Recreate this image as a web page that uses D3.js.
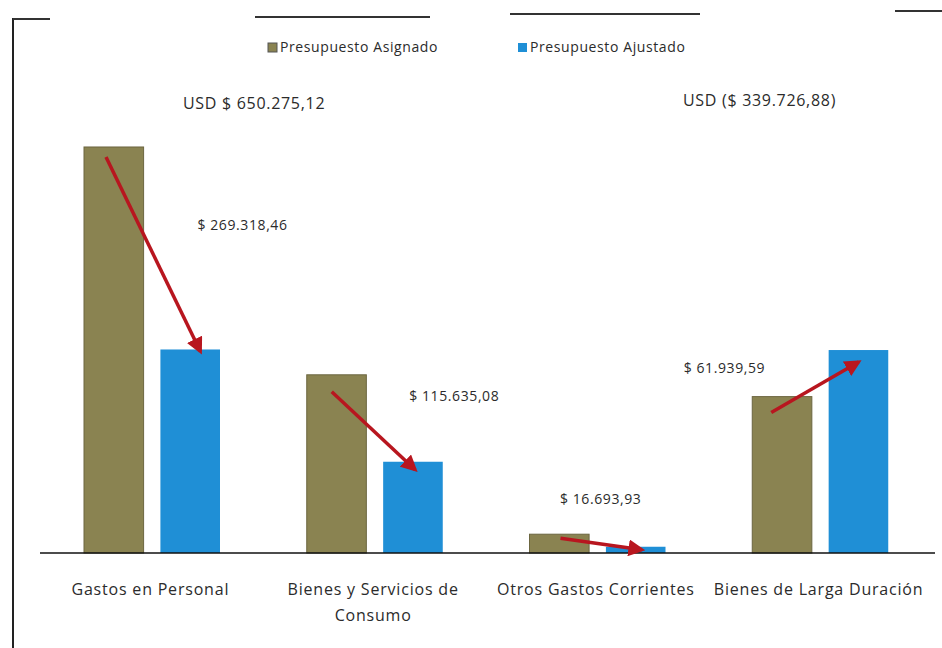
<!DOCTYPE html>
<html>
<head>
<meta charset="utf-8">
<script src="https://cdn.jsdelivr.net/npm/d3@7"></script>
<style>
  body { margin: 0; background: #fff; }
  text { font-family: "Open Sans", "Liberation Sans", sans-serif; fill: #2b2b2b; }
</style>
</head>
<body>
<div id="chart"></div>
<script>
// categorías y series
const categorias = ["Gastos en Personal", "Bienes y Servicios de Consumo", "Otros Gastos Corrientes", "Bienes de Larga Duración"];
const series = ["Presupuesto Asignado", "Presupuesto Ajustado"];

// valores (USD)
const asignado = [540000, 237000, 25000, 208000];
const ajustado = [270682, 121365, 8306, 269940];

// etiquetas de diferencia
const diferencias = ["$ 269.318,46", "$ 115.635,08", "$ 16.693,93", "$ 61.939,59"];
const totales = ["USD $ 650.275,12", "USD ($ 339.726,88)"];

const colores = ["#8a8351", "#1f8fd6"];

const W = 942, H = 648;
const margin = {left: 40, right: 11};

const svg = d3.select("#chart").append("svg")
    .attr("width", W)
    .attr("height", H);

// marco escaneado
svg.append("line").attr("x1", 13).attr("x2", 13).attr("y1", 18).attr("y2", H)
    .attr("stroke", "#222").attr("stroke-width", 2);
[[13, 50, 19], [255, 430, 17], [510, 700, 14], [895, 942, 11]].forEach(s => {
  svg.append("line").attr("x1", s[0]).attr("x2", s[1]).attr("y1", s[2]).attr("y2", s[2])
      .attr("stroke", "#333").attr("stroke-width", 2);
});

// escalas
const x0 = d3.scaleBand()
    .domain(categorias)
    .range([margin.left, W - margin.right]);

const x1 = d3.scaleBand()
    .domain(series)
    .range([44, 180])
    .paddingInner(0.22);

const y = d3.scaleLinear()
    .domain([0, 600000])
    .range([553, 553 - 600000 / 1330]);

const datos = categorias.map((c, i) => ({cat: c, vals: [asignado[i], ajustado[i]]}));

// barras
const g = svg.append("g");
g.selectAll("g.grupo")
  .data(datos)
  .join("g")
    .attr("class", "grupo")
    .attr("transform", d => "translate(" + x0(d.cat) + ",0)")
  .selectAll("rect")
  .data(d => d.vals.map((v, j) => ({serie: series[j], v: v, j: j})))
  .join("rect")
    .attr("x", d => x1(d.serie))
    .attr("y", d => y(d.v))
    .attr("width", x1.bandwidth())
    .attr("height", d => y(0) - y(d.v))
    .attr("fill", d => colores[d.j])
    .attr("stroke", d => d.j === 0 ? "#6c6640" : "none")
    .attr("stroke-width", 1);

// eje x (línea base)
svg.append("line")
    .attr("x1", margin.left).attr("x2", W - 7)
    .attr("y1", y(0)).attr("y2", y(0))
    .attr("stroke", "#111").attr("stroke-width", 1.6);

// etiquetas de categorías
const etiquetas = [["Gastos en Personal"], ["Bienes y Servicios de", "Consumo"], ["Otros Gastos Corrientes"], ["Bienes de Larga Duración"]];
categorias.forEach((c, i) => {
  const cx = x0(c) + x0.bandwidth() / 2 - 1;
  const t = svg.append("text")
      .attr("x", cx)
      .attr("y", 595)
      .attr("text-anchor", "middle")
      .attr("font-size", 16)
      .attr("letter-spacing", 0.8);
  etiquetas[i].forEach((l, k) => {
    t.append("tspan").attr("x", cx).attr("dy", k ? 26 : 0).text(l);
  });
});

// flechas
svg.append("defs").append("marker")
    .attr("id", "punta")
    .attr("viewBox", "0 0 10 10")
    .attr("refX", 8).attr("refY", 5)
    .attr("markerWidth", 4.8).attr("markerHeight", 4.8)
    .attr("orient", "auto")
  .append("path")
    .attr("d", "M0,0 L10,5 L0,10 Z")
    .attr("fill", "#b8161f");

// desplazamientos de inicio / fin de cada flecha respecto a las barras
const desde = [[22, 10], [25, 17], [31, 4], [19, 16]];
const hasta = [[40, 2], [32, 8], [36, 3], [30, 12]];

datos.forEach((d, i) => {
  const xa = x0(d.cat) + x1(series[0]);
  const xb = x0(d.cat) + x1(series[1]);
  svg.append("line")
      .attr("x1", xa + desde[i][0]).attr("y1", y(d.vals[0]) + desde[i][1])
      .attr("x2", xb + hasta[i][0]).attr("y2", y(d.vals[1]) + hasta[i][1])
      .attr("stroke", "#b8161f")
      .attr("stroke-width", 3.5)
      .attr("marker-end", "url(#punta)");
});

// etiquetas de diferencia (relativas a la barra ajustada)
const posEtiq = [[37, 226], [26, 397], [-46, 500], [-145, 369]];
datos.forEach((d, i) => {
  const ref = x0(d.cat) + x1(series[1]);
  svg.append("text")
      .attr("x", ref + posEtiq[i][0])
      .attr("y", posEtiq[i][1])
      .attr("dominant-baseline", "middle")
      .attr("font-size", 14)
      .attr("letter-spacing", 0.6)
      .text(diferencias[i]);
});

// totales
svg.append("text").attr("x", 183).attr("y", 105).attr("dominant-baseline", "middle")
    .attr("font-size", 16).attr("letter-spacing", 0.7).text(totales[0]);
svg.append("text").attr("x", 683).attr("y", 102).attr("dominant-baseline", "middle")
    .attr("font-size", 16).attr("letter-spacing", 0.7).text(totales[1]);

// leyenda
const leg = svg.append("g");
const legX = [268, 518];
series.forEach((s, i) => {
  leg.append("rect").attr("x", legX[i]).attr("y", 43).attr("width", 9).attr("height", 9)
      .attr("fill", colores[i]).attr("stroke", i === 0 ? "#555" : "none");
  leg.append("text").attr("x", legX[i] + 12).attr("y", 48).attr("dominant-baseline", "middle")
      .attr("font-size", 14).attr("letter-spacing", 0.6).text(s);
});
</script>
</body>
</html>
